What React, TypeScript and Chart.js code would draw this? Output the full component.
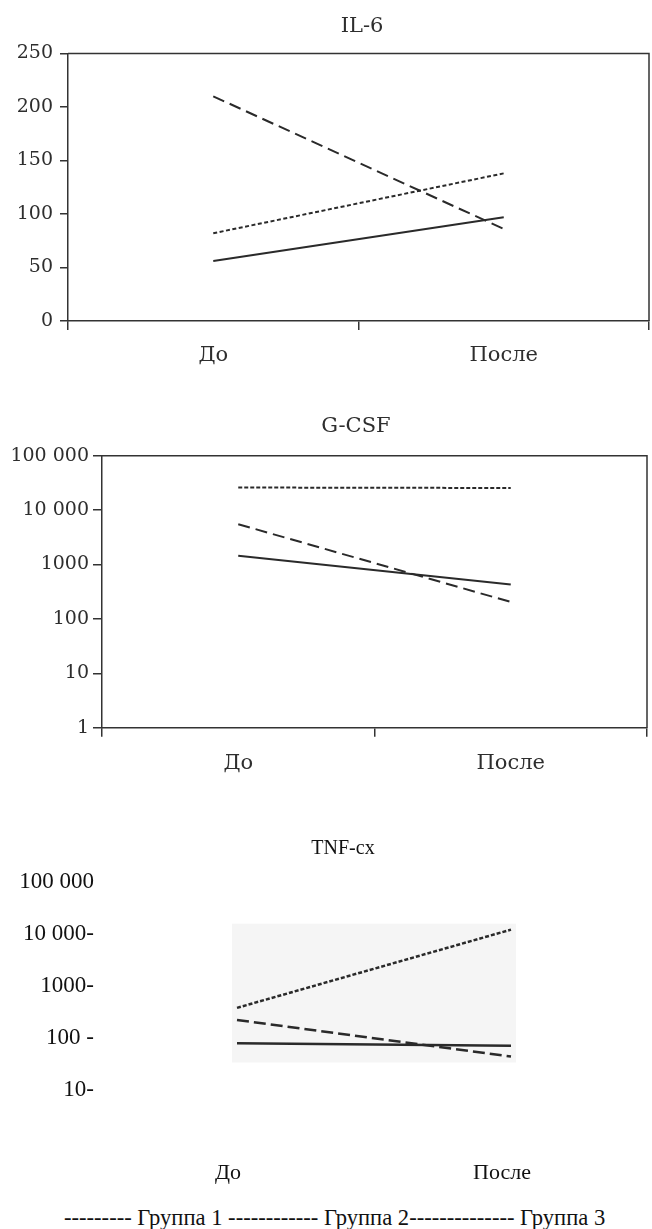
import React, { useEffect, useRef } from "react";
import { Chart, registerables } from "chart.js";

Chart.register(...registerables);

// ---------- data ----------
const categories = ["До", "После"];
const groupNames = ["Группа 1", "Группа 2", "Группа 3"];

const il6Group1 = [82, 138];
const il6Group2 = [210, 86];
const il6Group3 = [56, 97];
const il6Ticks = [0, 50, 100, 150, 200, 250];

const gcsfGroup1 = [26000, 25500];
const gcsfGroup2 = [5500, 205];
const gcsfGroup3 = [1450, 430];
const gcsfTicks = [1, 10, 100, 1000, 10000, 100000];
const gcsfTickLabels = ["1", "10", "100", "1000", "10 000", "100 000"];

const tnfGroup1 = [378, 12000];
const tnfGroup2 = [222, 44];
const tnfGroup3 = [79, 71];
const tnfTicks = [10, 100, 1000, 10000, 100000];
const tnfTickLabels = ["10-", "100 -", "1000-", "10 000-", "100 000"];

const legendText = "--------- Группа 1 ------------ Группа 2-------------- Группа 3";

// ---------- styles ----------
const INK = "#2a2a2a";
const AXIS = "#333333";
const TEXT = "#2e2e2e";
const PALATINO = "'DejaVu Serif', serif";
const TIMES = "'Liberation Serif', serif";

const dashes = [[4, 2.5], [12, 6], []];

function makeDatasets(series: number[][], width: number, dashSet: number[][]) {
  return series.map((values, i) => ({
    label: groupNames[i],
    data: values,
    borderColor: INK,
    borderWidth: width,
    borderDash: dashSet[i],
    borderCapStyle: "butt",
    pointRadius: 0,
    fill: false,
    tension: 0,
  }));
}

const frameBox = {
  id: "frameBox",
  afterDraw(chart: any) {
    const { ctx, chartArea } = chart;
    ctx.save();
    ctx.strokeStyle = AXIS;
    ctx.lineWidth = 1.5;
    ctx.beginPath();
    ctx.moveTo(chartArea.left, chartArea.top);
    ctx.lineTo(chartArea.right, chartArea.top);
    ctx.lineTo(chartArea.right, chartArea.bottom);
    ctx.stroke();
    ctx.restore();
  },
};

const grayBand = {
  id: "grayBand",
  beforeDatasetsDraw(chart: any) {
    const { ctx, scales } = chart;
    const all: number[] = [];
    chart.data.datasets.forEach((d: any) => all.push(...d.data));
    const top = scales.y.getPixelForValue(Math.max(...all)) - 6;
    const bottom = scales.y.getPixelForValue(Math.min(...all)) + 6;
    const left = scales.x.getPixelForValue(0) - 5;
    const right = scales.x.getPixelForValue(categories.length - 1) + 5;
    ctx.save();
    ctx.fillStyle = "#f5f5f5";
    ctx.fillRect(left, top, right - left, bottom - top);
    ctx.restore();
  },
};

const basePlugins = {
  legend: { display: false },
  tooltip: { enabled: false },
  title: { display: false },
};

function il6Config(): any {
  return {
    type: "line",
    data: {
      labels: categories,
      datasets: makeDatasets([il6Group1, il6Group2, il6Group3], 2, dashes),
    },
    options: {
      responsive: false,
      animation: false,
      layout: { padding: { top: 53.5, right: 3, left: 0, bottom: 0 } },
      plugins: basePlugins,
      scales: {
        x: {
          type: "category",
          offset: true,
          grid: { offset: true, drawOnChartArea: false, drawTicks: true, tickLength: 9, color: AXIS, lineWidth: 1.5 },
          border: { color: AXIS, width: 1.5 },
          ticks: { font: { family: PALATINO, size: 21 }, color: TEXT, padding: 13 },
          afterFit: (s: any) => { s.height = 59; },
        },
        y: {
          type: "linear",
          min: 0,
          max: 250,
          afterBuildTicks: (s: any) => { s.ticks = il6Ticks.map((v) => ({ value: v })); },
          grid: { drawOnChartArea: false, drawTicks: true, tickLength: 8, color: AXIS, lineWidth: 1.5 },
          border: { color: AXIS, width: 1.5 },
          ticks: { font: { family: PALATINO, size: 19 }, color: TEXT, padding: 7, autoSkip: false },
          afterFit: (s: any) => { s.width = 68; },
        },
      },
    },
    plugins: [frameBox],
  };
}

function gcsfConfig(): any {
  return {
    type: "line",
    data: {
      labels: categories,
      datasets: makeDatasets([gcsfGroup1, gcsfGroup2, gcsfGroup3], 2, [[4, 2], [12, 6], []]),
    },
    options: {
      responsive: false,
      animation: false,
      layout: { padding: { top: 65.7, right: 5, left: 0, bottom: 0 } },
      plugins: basePlugins,
      scales: {
        x: {
          type: "category",
          offset: true,
          grid: { offset: true, drawOnChartArea: false, drawTicks: true, tickLength: 9, color: AXIS, lineWidth: 1.5 },
          border: { color: AXIS, width: 1.5 },
          ticks: { font: { family: PALATINO, size: 21 }, color: TEXT, padding: 14 },
          afterFit: (s: any) => { s.height = 52.3; },
        },
        y: {
          type: "logarithmic",
          min: 1,
          max: 100000,
          afterBuildTicks: (s: any) => { s.ticks = gcsfTicks.map((v) => ({ value: v })); },
          grid: { drawOnChartArea: false, drawTicks: true, tickLength: 9, color: AXIS, lineWidth: 1.5 },
          border: { color: AXIS, width: 1.5 },
          ticks: {
            font: { family: PALATINO, size: 19 },
            color: TEXT,
            padding: 4,
            autoSkip: false,
            callback: (_v: any, i: number) => gcsfTickLabels[i],
          },
          afterFit: (s: any) => { s.width = 102; },
        },
      },
    },
    plugins: [frameBox],
  };
}

function tnfConfig(): any {
  return {
    type: "line",
    data: {
      labels: categories,
      datasets: makeDatasets([tnfGroup1, tnfGroup2, tnfGroup3], 2.5, [[4, 2], [12, 5], []]),
    },
    options: {
      responsive: false,
      animation: false,
      layout: { padding: { top: 81.7, right: 4, left: 0, bottom: 0 } },
      plugins: basePlugins,
      scales: {
        x: {
          type: "category",
          offset: true,
          grid: { display: false, drawTicks: false, tickLength: 0 },
          border: { display: false },
          ticks: { font: { family: TIMES, size: 22 }, color: "#111", padding: 70, labelOffset: -9 },
          afterFit: (s: any) => { s.height = 105; },
        },
        y: {
          type: "logarithmic",
          min: 10,
          max: 100000,
          afterBuildTicks: (s: any) => { s.ticks = tnfTicks.map((v) => ({ value: v })); },
          grid: { display: false, drawTicks: false, tickLength: 0 },
          border: { display: false },
          ticks: {
            font: { family: TIMES, size: 23 },
            color: "#111",
            padding: 6,
            autoSkip: false,
            callback: (_v: any, i: number) => tnfTickLabels[i],
          },
          afterFit: (s: any) => { s.width = 100; },
        },
      },
    },
    plugins: [grayBand],
  };
}

function ChartCanvas({ top, height, config }: { top: number; height: number; config: () => any }) {
  const ref = useRef<HTMLCanvasElement | null>(null);
  useEffect(() => {
    if (!ref.current) return;
    const chart = new Chart(ref.current, config());
    return () => chart.destroy();
  }, [config]);
  return (
    <canvas
      ref={ref}
      width={652}
      height={height}
      style={{ position: "absolute", left: 0, top, width: 652, height }}
    />
  );
}

function Label({ x, y, text, font, size, color }: any) {
  return (
    <div
      style={{
        position: "absolute",
        left: x,
        top: y,
        transform: "translate(-50%, -50%)",
        fontFamily: font,
        fontSize: size,
        lineHeight: 1,
        color,
        whiteSpace: "pre",
      }}
    >
      {text}
    </div>
  );
}

export default function App() {
  return (
    <div
      style={{
        position: "absolute",
        left: 0,
        top: 0,
        width: 652,
        height: 1229,
        background: "#ffffff",
        overflow: "hidden",
      }}
    >
      <ChartCanvas top={0} height={380} config={il6Config} />
      <ChartCanvas top={390} height={390} config={gcsfConfig} />
      <ChartCanvas top={800} height={395} config={tnfConfig} />
      <Label x={362} y={25} text="IL-6" font={PALATINO} size={21} color={TEXT} />
      <Label x={356} y={425} text="G-CSF" font={PALATINO} size={21} color={TEXT} />
      <Label x={343} y={847} text="TNF-cx" font={TIMES} size={20} color="#111" />
      <div
        style={{
          position: "absolute",
          left: 64,
          top: 1218,
          transform: "translateY(-50%)",
          fontFamily: TIMES,
          fontSize: 22.6,
          lineHeight: 1,
          color: "#111",
          whiteSpace: "pre",
        }}
      >
        {legendText}
      </div>
    </div>
  );
}
